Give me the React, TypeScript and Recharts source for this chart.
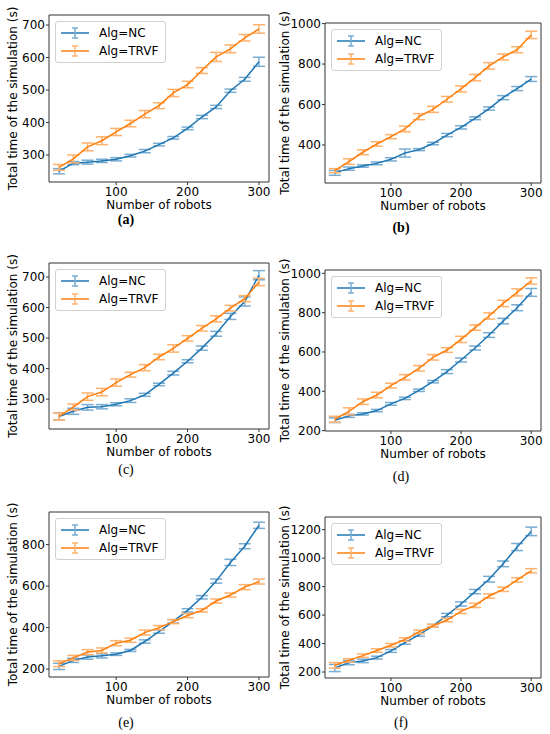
import React from 'react';
import { LineChart, Line, XAxis, YAxis, ErrorBar, Legend, ReferenceLine } from 'recharts';

const ROBOTS = [20, 40, 60, 80, 100, 120, 140, 160, 180, 200, 220, 240, 260, 280, 300];
const X_TICKS = [100, 200, 300];
const X_DOMAIN = [6, 314];

// (a)
const A_NC = [250, 275, 278, 282, 287, 298, 312, 332, 353, 382, 417, 448, 498, 533, 587];
const A_NC_ERR = [8, 5, 6, 5, 5, 4, 5, 4, 4, 4, 5, 5, 5, 6, 14];
const A_TRVF = [262, 288, 325, 344, 371, 397, 426, 452, 491, 517, 560, 602, 627, 661, 688];
const A_TRVF_ERR = [9, 12, 12, 12, 11, 10, 11, 9, 11, 10, 9, 14, 12, 10, 13];
const A_Y_TICKS = [300, 400, 500, 600, 700];

// (b)
const B_NC = [262, 283, 296, 309, 329, 360, 377, 407, 449, 487, 532, 580, 634, 679, 726];
const B_NC_ERR = [12, 8, 6, 7, 8, 20, 5, 6, 8, 8, 7, 8, 10, 10, 12];
const B_TRVF = [273, 318, 364, 405, 441, 479, 540, 576, 626, 677, 733, 791, 835, 871, 944];
const B_TRVF_ERR = [10, 14, 12, 11, 10, 14, 15, 15, 14, 15, 16, 16, 15, 15, 18];
const B_Y_TICKS = [400, 600, 800, 1000];

// (c)
const C_NC = [243, 260, 273, 275, 283, 295, 314, 348, 385, 424, 467, 514, 571, 620, 706];
const C_NC_ERR = [12, 10, 9, 7, 5, 6, 5, 4, 6, 5, 7, 8, 10, 15, 15];
const C_TRVF = [243, 274, 308, 323, 354, 380, 403, 438, 466, 499, 532, 563, 598, 629, 684];
const C_TRVF_ERR = [12, 10, 12, 12, 12, 8, 10, 9, 12, 9, 9, 10, 9, 10, 12];
const C_Y_TICKS = [300, 400, 500, 600, 700];

// (d)
const D_NC = [253, 275, 285, 302, 336, 364, 405, 449, 500, 559, 620, 686, 757, 825, 903];
const D_NC_ERR = [12, 8, 6, 6, 7, 6, 6, 6, 10, 10, 10, 12, 14, 15, 20];
const D_TRVF = [258, 298, 347, 381, 429, 471, 517, 573, 610, 664, 724, 783, 847, 903, 961];
const D_TRVF_ERR = [15, 18, 14, 14, 12, 14, 14, 14, 12, 16, 14, 16, 16, 18, 16];
const D_Y_TICKS = [200, 400, 600, 800, 1000];

// (e)
const E_NC = [213, 242, 258, 264, 272, 290, 333, 381, 430, 483, 546, 624, 714, 792, 893];
const E_NC_ERR = [15, 10, 10, 10, 6, 5, 8, 8, 8, 8, 8, 10, 15, 12, 15];
const E_TRVF = [226, 254, 282, 290, 325, 339, 376, 400, 429, 458, 483, 528, 557, 595, 622];
const E_TRVF_ERR = [14, 12, 12, 12, 12, 10, 12, 10, 10, 10, 8, 10, 10, 12, 12];
const E_Y_TICKS = [200, 400, 600, 800];

// (f)
const F_NC = [228, 266, 278, 301, 348, 407, 461, 525, 600, 678, 765, 852, 960, 1078, 1188];
const F_NC_ERR = [25, 15, 12, 10, 10, 12, 10, 10, 12, 15, 15, 20, 20, 25, 30];
const F_TRVF = [247, 282, 315, 351, 388, 428, 482, 525, 565, 626, 668, 734, 781, 847, 911];
const F_TRVF_ERR = [20, 12, 12, 12, 12, 12, 12, 10, 12, 15, 15, 15, 15, 15, 15];
const F_Y_TICKS = [200, 400, 600, 800, 1000, 1200];

const BLUE = '#1f77b4';
const ORANGE = '#ff7f0e';
const LIGHT: Record<string, string> = { [BLUE]: '#79add2', [ORANGE]: '#ffb26e' };
const AXIS = '#333';
const FONT = 'DejaVu Sans';
const TOP_PAD = 20;

const PANELS = [
  { id: '(a)', bold: true, col: 0, plot: { left: 49, top: 15, right: 269, bottom: 182 }, cap: 220, yDomain: [217, 731], yTicks: A_Y_TICKS, nc: A_NC, ncErr: A_NC_ERR, trvf: A_TRVF, trvfErr: A_TRVF_ERR, yl: 13 },
  { id: '(b)', bold: true, col: 1, plot: { left: 325, top: 23, right: 541, bottom: 183 }, cap: 228, yDomain: [212, 1003], yTicks: B_Y_TICKS, nc: B_NC, ncErr: B_NC_ERR, trvf: B_TRVF, trvfErr: B_TRVF_ERR, yl: 10 },
  { id: '(c)', bold: false, col: 0, plot: { left: 49, top: 263, right: 269, bottom: 429 }, cap: 470, yDomain: [202, 746], yTicks: C_Y_TICKS, nc: C_NC, ncErr: C_NC_ERR, trvf: C_TRVF, trvfErr: C_TRVF_ERR, yl: 13 },
  { id: '(d)', bold: false, col: 1, plot: { left: 325, top: 270, right: 541, bottom: 431 }, cap: 477, yDomain: [198, 1017], yTicks: D_Y_TICKS, nc: D_NC, ncErr: D_NC_ERR, trvf: D_TRVF, trvfErr: D_TRVF_ERR, yl: 10 },
  { id: '(e)', bold: false, col: 0, plot: { left: 49, top: 512, right: 269, bottom: 677 }, cap: 723, yDomain: [162, 957], yTicks: E_Y_TICKS, nc: E_NC, ncErr: E_NC_ERR, trvf: E_TRVF, trvfErr: E_TRVF_ERR, yl: 13 },
  { id: '(f)', bold: false, col: 1, plot: { left: 325, top: 517, right: 541, bottom: 678 }, cap: 723, yDomain: [158, 1289], yTicks: F_Y_TICKS, nc: F_NC, ncErr: F_NC_ERR, trvf: F_TRVF, trvfErr: F_TRVF_ERR, yl: 10 },
];

const renderLegend = (props: any) => (
  <div
    style={{
      border: '1px solid #d0d0d0',
      borderRadius: 3,
      background: 'rgba(255,255,255,0.8)',
      padding: '2px 7px 2px 4px',
      fontFamily: FONT,
      fontSize: 12,
      color: '#000',
    }}
  >
    {(props?.payload ?? []).map((e: any) => (
      <div key={e.value} style={{ display: 'flex', alignItems: 'center', height: 18 }}>
        <svg width={30} height={14}>
          <line x1={1} y1={7} x2={29} y2={7} stroke={e.color} strokeWidth={1.5} />
          <line x1={15} y1={2} x2={15} y2={12} stroke={LIGHT[e.color]} strokeWidth={1.5} />
          <line x1={12} y1={2} x2={18} y2={2} stroke={LIGHT[e.color]} strokeWidth={1.5} />
          <line x1={12} y1={12} x2={18} y2={12} stroke={LIGHT[e.color]} strokeWidth={1.5} />
        </svg>
        <span style={{ marginLeft: 9, lineHeight: '14px' }}>{e.value}</span>
      </div>
    ))}
  </div>
);

function Panel({ p }: { p: any }) {
  const data = ROBOTS.map((x, i) => ({
    x,
    nc: p.nc[i],
    ncErr: p.ncErr[i],
    trvf: p.trvf[i],
    trvfErr: p.trvfErr[i],
  }));
  const cellX = p.col * 275;
  const chartTop = p.plot.top - TOP_PAD;
  const height = p.plot.bottom - p.plot.top + TOP_PAD + 35;
  const tick = { fontSize: 12, fill: '#000', fontFamily: FONT };

  return (
    <div style={{ position: 'absolute', left: cellX, top: chartTop }}>
      <LineChart
        width={275}
        height={height}
        data={data}
        margin={{ top: TOP_PAD, right: cellX + 275 - p.plot.right, left: 0, bottom: 0 }}
        style={{ fontFamily: FONT }}
      >
        <XAxis
          xAxisId="b"
          dataKey="x"
          type="number"
          domain={X_DOMAIN}
          ticks={X_TICKS}
          allowDataOverflow
          height={35}
          tick={tick}
          tickSize={3}
          tickMargin={2}
          stroke={AXIS}
          label={{ value: 'Number of robots', position: 'insideBottom', offset: 8, fontSize: 12, fill: '#000', fontFamily: FONT }}
        />
        <YAxis
          yAxisId="l"
          type="number"
          domain={p.yDomain}
          ticks={p.yTicks}
          allowDataOverflow
          width={p.plot.left - cellX}
          tick={tick}
          tickSize={3}
          tickMargin={1}
          stroke={AXIS}
          label={{
            value: 'Total time of the simulation (s)',
            angle: -90,
            position: 'insideLeft',
            offset: p.yl,
            fontSize: 12,
            fill: '#000',
            fontFamily: FONT,
            style: { textAnchor: 'middle' },
          }}
        />
        {/* top and right spines */}
        <ReferenceLine xAxisId="b" yAxisId="l" y={p.yDomain[1]} stroke={AXIS} ifOverflow="visible" />
        <ReferenceLine xAxisId="b" yAxisId="l" x={X_DOMAIN[1]} stroke={AXIS} ifOverflow="visible" />
        <Legend
          layout="vertical"
          align="center"
          verticalAlign="middle"
          wrapperStyle={{ left: p.plot.left - cellX + 6, top: TOP_PAD + 6, width: 'auto' }}
          content={renderLegend}
        />
        <Line
          xAxisId="b"
          yAxisId="l"
          type="linear"
          dataKey="nc"
          name="Alg=NC"
          stroke={BLUE}
          strokeWidth={1.5}
          dot={false}
          isAnimationActive={false}
        >
          <ErrorBar dataKey="ncErr" direction="y" width={6} stroke={LIGHT[BLUE]} strokeWidth={1.5} isAnimationActive={false} />
        </Line>
        <Line
          xAxisId="b"
          yAxisId="l"
          type="linear"
          dataKey="trvf"
          name="Alg=TRVF"
          stroke={ORANGE}
          strokeWidth={1.5}
          dot={false}
          isAnimationActive={false}
        >
          <ErrorBar dataKey="trvfErr" direction="y" width={6} stroke={LIGHT[ORANGE]} strokeWidth={1.5} isAnimationActive={false} />
        </Line>
      </LineChart>
    </div>
  );
}

export default function App() {
  return (
    <div style={{ position: 'absolute', left: 0, top: 0, width: 550, height: 734, background: '#fff' }}>
      {PANELS.map((p) => (
        <React.Fragment key={p.id}>
          <Panel p={p} />
          <div
            style={{
              position: 'absolute',
              left: p.col * 275 + 96,
              top: p.cap - 9,
              width: 60,
              textAlign: 'center',
              fontFamily: 'Liberation Serif',
              fontSize: 14,
              fontWeight: p.bold ? 'bold' : 'normal',
              lineHeight: '18px',
            }}
          >
            {p.id}
          </div>
        </React.Fragment>
      ))}
    </div>
  );
}
